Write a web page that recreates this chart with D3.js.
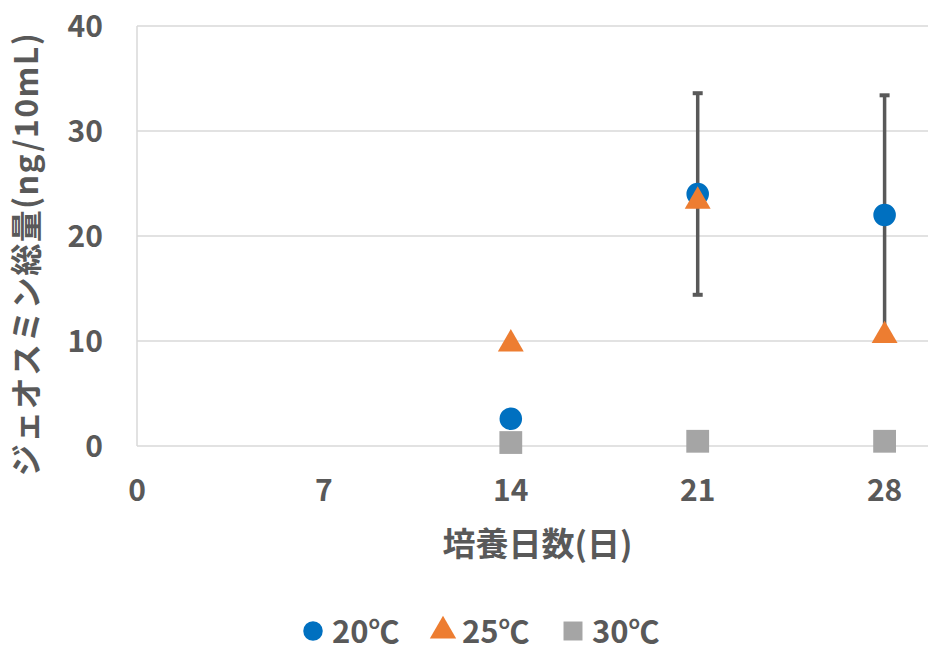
<!DOCTYPE html>
<html>
<head>
<meta charset="utf-8">
<script src="https://cdn.jsdelivr.net/npm/d3@7"></script>
<style>
  body { margin: 0; background: #fff; }
  text { font-family: "Noto Sans CJK JP", "Noto Sans", sans-serif; font-weight: bold; fill: #595959; }
</style>
</head>
<body>
<script>
const width = 928;
const height = 654;

const days = [14, 21, 28];
const seriesNames = ['20℃', '25℃', '30℃'];
const values20 = [2.6, 24.0, 22.0];
const values25 = [9.9, 23.5, 10.7];
const values30 = [0.33, 0.45, 0.45];
const err20 = [null, 9.6, 11.4];
const xTicks = [0, 7, 14, 21, 28];
const yTicks = [0, 10, 20, 30, 40];

const colors = ['#0070c0', '#ed7d31', '#a5a5a5'];

const x = d3.scaleLinear().domain([0, 30]).range([137, 938]);
const y = d3.scaleLinear().domain([0, 40]).range([446, 26]);

const svg = d3.select('body').append('svg')
  .attr('width', width)
  .attr('height', height);

// grid
svg.append('g')
  .selectAll('line')
  .data(yTicks)
  .enter().append('line')
    .attr('x1', x(0))
    .attr('x2', width)
    .attr('y1', d => y(d))
    .attr('y2', d => y(d))
    .style('stroke', '#d9d9d9')
    .style('stroke-width', 1.5);

svg.append('line')
  .attr('x1', x(0)).attr('x2', x(0))
  .attr('y1', y(40)).attr('y2', y(0))
  .style('stroke', '#d9d9d9')
  .style('stroke-width', 1.5);

// tick labels
svg.append('g')
  .selectAll('text')
  .data(yTicks)
  .enter().append('text')
    .attr('x', 103)
    .attr('y', d => y(d))
    .attr('dy', '0.35em')
    .attr('text-anchor', 'end')
    .style('font-size', '30px')
    .text(d => d);

svg.append('g')
  .selectAll('text')
  .data(xTicks)
  .enter().append('text')
    .attr('x', d => x(d))
    .attr('y', 490)
    .attr('dy', '0.35em')
    .attr('text-anchor', 'middle')
    .style('font-size', '30px')
    .text(d => d);

// axis titles
svg.append('text')
  .attr('x', (x.range()[0] + x.range()[1]) / 2)
  .attr('y', 544)
  .attr('dy', '0.35em')
  .attr('text-anchor', 'middle')
  .style('font-size', '33px')
  .text('培養日数(日)');

svg.append('text')
  .attr('transform', 'translate(27,254) rotate(-90)')
  .attr('dy', '0.35em')
  .attr('text-anchor', 'middle')
  .style('font-size', '32px')
  .style('letter-spacing', '1.4px')
  .text('ジェオスミン総量(ng/10mL)');

// error bars for 20℃
const errData = days.map((d, i) => ({ day: d, v: values20[i], e: err20[i] })).filter(d => d.e != null);
const eb = svg.append('g').style('stroke', '#595959');
eb.selectAll('.bar')
  .data(errData)
  .enter().append('line')
    .attr('x1', d => x(d.day)).attr('x2', d => x(d.day))
    .attr('y1', d => y(d.v + d.e)).attr('y2', d => y(d.v - d.e))
    .style('stroke-width', 3.5);
eb.selectAll('.cap')
  .data(errData.flatMap(d => [{ day: d.day, v: d.v + d.e }, { day: d.day, v: d.v - d.e }]))
  .enter().append('line')
    .attr('x1', d => x(d.day) - 5).attr('x2', d => x(d.day) + 5)
    .attr('y1', d => y(d.v)).attr('y2', d => y(d.v))
    .style('stroke-width', 4);

const sym = [d3.symbolCircle, d3.symbolTriangle, d3.symbolSquare];
const sizes = [400, 290, 520];
const allSeries = [values20, values25, values30];

// draw 30 first, then 20, then 25 on top
[2, 0, 1].forEach(s => {
  svg.append('g')
    .selectAll('path')
    .data(days.map((d, i) => ({ day: d, v: allSeries[s][i] })))
    .enter().append('path')
      .attr('transform', d => `translate(${x(d.day)},${y(d.v) + (s === 1 ? 2 : 0)})`)
      .attr('d', d3.symbol().type(sym[s]).size(sizes[s]))
      .style('fill', colors[s]);
});

// legend
const legendX = [313, 443, 573];
const legend = svg.append('g');
seriesNames.forEach((name, i) => {
  legend.append('path')
    .attr('transform', `translate(${legendX[i]},${631})`)
    .attr('d', d3.symbol().type(sym[i]).size(i === 2 ? 360 : 300))
    .style('fill', colors[i]);
  legend.append('text')
    .attr('x', legendX[i] + 19)
    .attr('y', 632)
    .attr('dy', '0.35em')
    .style('font-size', '31px')
    .text(name);
});
</script>
</body>
</html>
